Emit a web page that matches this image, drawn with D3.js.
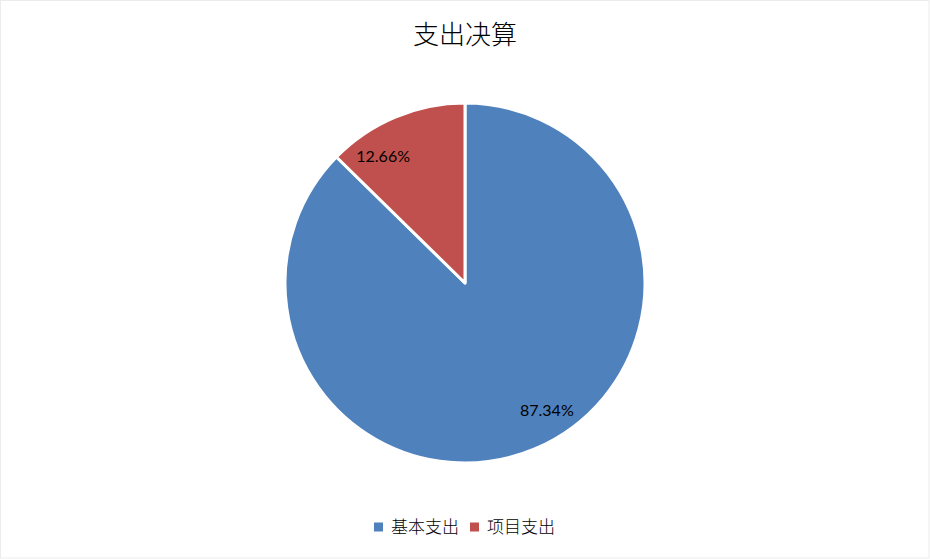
<!DOCTYPE html>
<html>
<head>
<meta charset="utf-8">
<script src="https://cdn.jsdelivr.net/npm/d3@7"></script>
<style>
	html, body { margin: 0; padding: 0; background: #fff; }
	svg { display: block; }
</style>
</head>
<body>
<div id="chart"></div>
<script>
(function () {

	"use strict";

	// chart data
	var categories = ['基本支出', '项目支出'];
	var shares = [87.34, 12.66];
	var colors = ['#4F81BD', '#C0504D'];
	var title = '支出决算';

	var width = 930,
		height = 559,
		cx = 465,
		cy = 283,
		radius = 180;

	var svg = d3.select('#chart').append('svg')
		.attr('width', width)
		.attr('height', height);

	//light frame round the chart area
	svg.append('rect')
		.attr('x', 0.5)
		.attr('y', 0.5)
		.attr('width', width - 1.5)
		.attr('height', height - 1.5)
		.attr('fill', '#fff')
		.attr('stroke', '#ececec');

	svg.append('text')
		.attr('x', cx)
		.attr('y', 44)
		.attr('text-anchor', 'middle')
		.style('font-family', '"Noto Sans CJK SC", sans-serif')
		.style('font-size', '26px')
		.style('font-weight', 300)
		.style('fill', '#000')
		.text(title);

	var color = d3.scaleOrdinal().domain(categories).range(colors);

	var pie = d3.pie().sort(null).value(function (d) { return d.value; });
	var data = categories.map(function (c, i) { return { name: c, value: shares[i] }; });
	var arcs = pie(data);

	var arc = d3.arc().innerRadius(0).outerRadius(radius);

	var g = svg.append('g').attr('transform', 'translate(' + cx + ',' + cy + ')');

	g.selectAll('path.slice')
		.data(arcs)
		.enter().append('path')
		.attr('class', 'slice')
		.attr('d', arc)
		.attr('fill', function (d) { return color(d.data.name); })
		.attr('stroke', '#fff')
		.attr('stroke-width', 3)
		.attr('stroke-linejoin', 'round');

	//labels sit a bit before the middle of each slice, like the original
	var labelR = radius * 0.84,
		shift = -10 * Math.PI / 180;

	g.selectAll('text.lbl')
		.data(arcs)
		.enter().append('text')
		.attr('class', 'lbl')
		.attr('x', function (d) { return labelR * Math.sin((d.startAngle + d.endAngle) / 2 + shift); })
		.attr('y', function (d) { return -labelR * Math.cos((d.startAngle + d.endAngle) / 2 + shift); })
		.attr('dy', '0.35em')
		.attr('text-anchor', 'middle')
		.style('font-family', 'Lato, "Open Sans", sans-serif')
		.style('font-size', '16px')
		.style('fill', '#000')
		.text(function (d) { return d.data.value.toFixed(2) + '%'; });

	//legend
	var legend = svg.append('g').attr('transform', 'translate(374,527)');
	var offsets = [0, 96];

	var item = legend.selectAll('g.item')
		.data(categories)
		.enter().append('g')
		.attr('class', 'item')
		.attr('transform', function (d, i) { return 'translate(' + offsets[i] + ',0)'; });

	item.append('rect')
		.attr('x', 0)
		.attr('y', -4.5)
		.attr('width', 9)
		.attr('height', 9)
		.attr('fill', function (d) { return color(d); });

	item.append('text')
		.attr('x', 17)
		.attr('y', 0)
		.attr('dy', '0.36em')
		.style('font-family', '"Noto Sans CJK SC", sans-serif')
		.style('font-size', '17px')
		.style('font-weight', 300)
		.style('fill', '#000')
		.text(function (d) { return d; });

}).call(this);
</script>
</body>
</html>
